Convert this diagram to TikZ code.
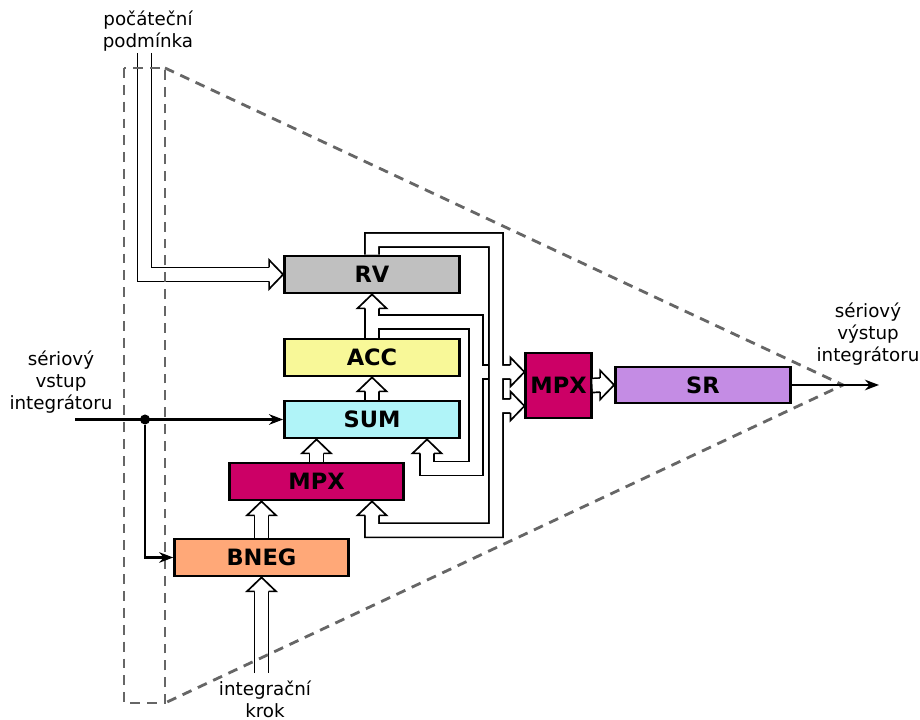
\documentclass[tikz,border=0pt]{standalone}
\usepackage{fontspec}
\setmainfont{DejaVu Sans}
\usepackage{xcolor}
\usepackage{tikz}
\usetikzlibrary{positioning,arrows.meta,calc}
\definecolor{rvgray}{HTML}{C0C0C0}
\definecolor{accyel}{HTML}{F8F898}
\definecolor{sumcyan}{HTML}{B0F4F8}
\definecolor{mpxred}{HTML}{CC0066}
\definecolor{negorg}{HTML}{FFA878}
\definecolor{srlila}{HTML}{C48CE4}
\definecolor{dashgray}{HTML}{666666}
\begin{document}
\begin{tikzpicture}[x=0.025cm,y=-0.025cm,
  every node/.style={font=\fontsize{13}{15.8}\selectfont},
  blok/.style={draw,line width=1.8pt,minimum width=4.38cm,minimum height=0.93cm,font=\fontsize{16}{19}\selectfont\bfseries},
  bus/.style={line width=1.2pt,double=white,double distance=8.8pt},
  sig/.style={line width=1.6pt,-{Stealth[length=10pt,width=7.5pt]}},
  outline/.style={dashgray,line width=2pt,dash pattern=on 7pt off 5pt},
  hollowhead/.pic={\filldraw[fill=white,line width=1.2pt] (-7,14) -- (-14.5,14) -- (0,0) -- (14.5,14) -- (7,14);}]
  \useasboundingbox (0,0) rectangle (920,720);
  \node[blok,fill=rvgray] (rv) at (372,274.5) {RV};
  \node[blok,fill=accyel] (acc) at (372,357.5) {ACC};
  \node[blok,fill=sumcyan] (sum) at (372,419.5) {SUM};
  \node[blok,fill=mpxred,minimum width=4.35cm] (mpxb) at (316.5,481.5) {MPX};
  \node[blok,fill=negorg,minimum width=4.35cm] (bneg) at (261.5,557.5) {BNEG};
  \node[blok,fill=mpxred,minimum width=1.63cm,minimum height=1.63cm] (mpx) at (558.5,385.5) {MPX};
  \node[blok,fill=srlila,minimum height=0.91cm] (sr) at (703,385) {SR};
  \node[align=center] (ictext) at (148,31) {počáteční\\podmínka};
  \node[align=center] (intext) at (61,382) {sériový\\vstup\\integrátoru};
  \node[align=center] (outtext) at (868,334) {sériový\\výstup\\integrátoru};
  \node[align=center] (steptext) at (265,699) {integrační\\krok};
  \coordinate (ic) at (144.5,53);
  \coordinate (step) at (261.5,673);
  \coordinate (in) at (75,419.5);
  \coordinate (out) at (879,385);
  \node[circle,fill,inner sep=0pt,minimum size=0.25cm] (split) at (145,419.5) {};
  \draw[bus] (ic) |- ($(rv.west)+(-13,0)$);
  \draw[bus] (acc.north) -- ($(rv.south)+(0,13)$)
    ($(acc.north)+(0,-15.5)$) -| (476,468.5) -| ($(sum.south)+(55,13)$)
    (476,372) -- (496,372);
  \draw[bus] (rv.north) |- (496,240) |- ($(mpxb.south)+(55.5,29)$) -- ($(mpxb.south)+(55.5,13)$)
    (496,372) -- ($(mpx.west)+(-13,-13.5)$)
    (496,406) -- ($(mpx.west)+(-13,20.5)$);
  \draw[bus] (sum.north) -- ($(acc.south)+(0,13)$);
  \draw[bus] (mpxb.north) -- ($(mpxb.north |- sum.south)+(0,13)$);
  \draw[bus] (bneg.north) -- ($(bneg.north |- mpxb.south)+(0,13)$);
  \draw[bus] (step) -- ($(bneg.south)+(0,13)$);
  \draw[bus] (mpx.east) -- ($(sr.west)+(-13,0)$);
  \pic[rotate=-90] at (rv.west) {hollowhead};
  \pic at (rv.south) {hollowhead};
  \pic at (acc.south) {hollowhead};
  \pic at ($(sum.south)+(55,0)$) {hollowhead};
  \pic at (mpxb.north |- sum.south) {hollowhead};
  \pic at (bneg.north |- mpxb.south) {hollowhead};
  \pic at ($(mpxb.south)+(55.5,0)$) {hollowhead};
  \pic at (bneg.south) {hollowhead};
  \pic[rotate=-90] at ($(mpx.west)+(0,-13.5)$) {hollowhead};
  \pic[rotate=-90] at ($(mpx.west)+(0,20.5)$) {hollowhead};
  \pic[rotate=-90] at (sr.west) {hollowhead};
  \draw[outline] (124,68) rectangle (165,703);
  \draw[outline] (165,68) -- (843,385) -- (165,703);
  \draw[sig] (in) -- (sum.west);
  \draw[sig] (split) |- (bneg.west);
  \draw[sig] (sr.east) -- (out);
\end{tikzpicture}
\end{document}
